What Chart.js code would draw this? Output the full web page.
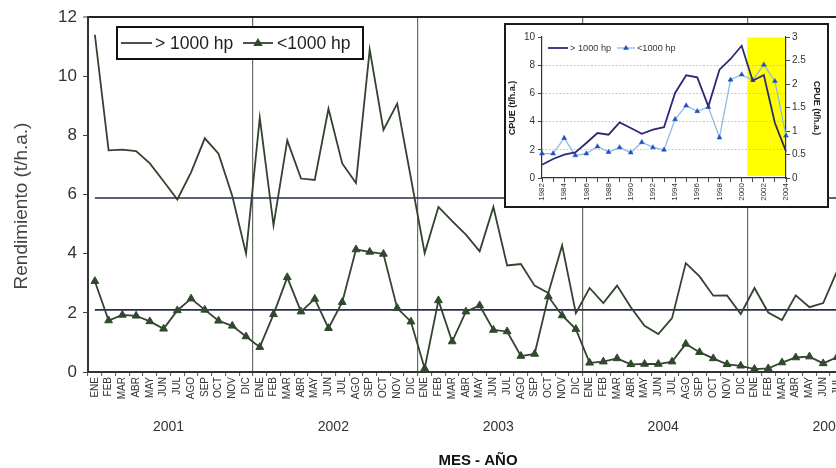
<!DOCTYPE html>
<html><head><meta charset="utf-8">
<script src="https://cdn.jsdelivr.net/npm/chart.js@4.4.1/dist/chart.umd.min.js"></script>
<style>
html,body{margin:0;padding:0;background:#fff;overflow:hidden;width:836px;height:468px;}
#wrap{position:relative;width:836px;height:468px;overflow:hidden;}
#main{position:absolute;left:0;top:0;}
#insetBox{position:absolute;left:504px;top:23px;width:325px;height:185px;box-sizing:border-box;border:2px solid #1a1a1a;background:#fff;}
#inset{position:absolute;left:0;top:0;}
</style></head><body>
<div id="wrap">
<canvas id="main" width="850" height="468" style="width:850px;height:468px"></canvas>
<div id="insetBox"><canvas id="inset" width="321" height="181" style="width:321px;height:181px"></canvas></div>
</div>
<script>
// ---------- main chart data ----------
const years = ['2001','2002','2003','2004','2005'];
const monthsPerYear = [12,12,12,12,7];
const months = ['ENE','FEB','MAR','ABR','MAY','JUN','JUL','AGO','SEP','OCT','NOV','DIC'];
const seriesNames = ['> 1000 hp','<1000 hp'];
const large = [11.4,7.49,7.52,7.47,7.05,6.45,5.83,6.75,7.9,7.38,5.95,4.0,
  8.6,4.96,7.83,6.54,6.49,8.9,7.05,6.39,10.9,8.18,9.07,6.55,
  4.02,5.58,5.1,4.64,4.08,5.58,3.6,3.65,2.92,2.67,4.28,1.99,
  2.84,2.33,2.92,2.19,1.56,1.28,1.82,3.68,3.23,2.58,2.59,1.96,
  2.84,2.01,1.76,2.59,2.19,2.33,3.4];
const small = [3.07,1.74,1.93,1.9,1.71,1.46,2.08,2.48,2.1,1.73,1.56,1.2,
  0.84,1.95,3.2,2.04,2.47,1.48,2.36,4.14,4.06,3.99,2.16,1.7,
  0.12,2.42,1.03,2.04,2.25,1.42,1.37,0.54,0.61,2.55,1.91,1.45,
  0.31,0.35,0.46,0.26,0.27,0.27,0.35,0.95,0.67,0.46,0.26,0.21,
  0.1,0.12,0.32,0.49,0.52,0.29,0.5];
const meanLarge = 5.88;
const meanSmall = 2.1;
const yTicksMain = [0,2,4,6,8,10,12];

// ---------- inset data ----------
const insetYears = ['1982','1983','1984','1985','1986','1987','1988','1989','1990','1991','1992','1993',
  '1994','1995','1996','1997','1998','1999','2000','2001','2002','2003','2004'];
const insetLarge = [0.94,1.35,1.65,1.82,2.48,3.19,3.07,3.94,3.55,3.14,3.43,3.6,6.03,7.28,7.14,5.08,7.68,8.44,9.38,6.9,7.3,3.9,1.89];
const insetSmall = [0.52,0.52,0.85,0.48,0.52,0.67,0.55,0.65,0.54,0.76,0.65,0.6,1.25,1.54,1.42,1.51,0.86,2.09,2.2,2.08,2.41,2.06,0.9];
const highlightFrom = '2001';
const insetTitle = 'CPUE (t/h.a.)';

const FONT = "'Liberation Sans', Arial, sans-serif";
const mainCats = [];
years.forEach((y,i)=>{ months.slice(0, monthsPerYear[i]).forEach(m=>mainCats.push(m)); });

const LINE_C = '#33432f';
const TRI_C = '#2e4a2b';

function drawLegendItem(ctx, x0, x1, y, color, lw, tri, triColor, triR){
  ctx.save();
  ctx.strokeStyle = color; ctx.lineWidth = lw;
  ctx.beginPath(); ctx.moveTo(x0,y); ctx.lineTo(x1,y); ctx.stroke();
  if (tri){
    const cx=(x0+x1)/2; const r=triR;
    ctx.fillStyle = triColor;
    ctx.beginPath();
    ctx.moveTo(cx, y - r);
    ctx.lineTo(cx + r*0.95, y + r*0.6);
    ctx.lineTo(cx - r*0.95, y + r*0.6);
    ctx.closePath(); ctx.fill();
  }
  ctx.restore();
}

const mainDecor = {
  id:'mainDecor',
  beforeDatasetsDraw(chart){
    const {ctx, scales:{x,y}, chartArea} = chart;
    ctx.save();
    ctx.strokeStyle = '#2a2e48'; ctx.lineWidth = 1.6;
    [meanLarge, meanSmall].forEach(v=>{
      const py = y.getPixelForValue(v);
      ctx.beginPath(); ctx.moveTo(x.getPixelForValue(0), py); ctx.lineTo(chartArea.right, py); ctx.stroke();
    });
    ctx.restore();
  },
  afterDraw(chart){
    const {ctx, scales:{x}} = chart;
    ctx.save();
    // year labels
    ctx.fillStyle = '#333'; ctx.font = '14px ' + FONT; ctx.textAlign='center'; ctx.textBaseline='middle';
    let s = 0;
    years.forEach((yr,i)=>{
      const px = (x.getPixelForValue(s+5) + x.getPixelForValue(s+6))/2 - 2;
      ctx.fillText(yr, px, 427);
      s += monthsPerYear[i];
    });
    // x title
    ctx.fillStyle = '#111'; ctx.font = 'bold 15px ' + FONT;
    ctx.fillText('MES - AÑO', 478, 461);
    // y title
    ctx.save();
    ctx.translate(22, 206); ctx.rotate(-Math.PI/2);
    ctx.fillStyle = '#444'; ctx.font = '19px ' + FONT;
    ctx.fillText('Rendimiento (t/h.a.)', 0, 0);
    ctx.restore();
    // legend
    ctx.fillStyle = '#fff'; ctx.fillRect(117,27,246,32);
    ctx.strokeStyle = '#111'; ctx.lineWidth = 2; ctx.strokeRect(117,27,246,32);
    drawLegendItem(ctx, 121, 152, 43, LINE_C, 1.8, false);
    drawLegendItem(ctx, 243, 273, 43, LINE_C, 1.8, true, TRI_C, 5);
    ctx.fillStyle = '#222'; ctx.font = '17.5px ' + FONT; ctx.textAlign='left'; ctx.textBaseline='middle';
    ctx.fillText(seriesNames[0], 155, 44);
    ctx.fillText(seriesNames[1], 277, 44);
    ctx.restore();
  }
};

new Chart(document.getElementById('main'), {
  type:'line',
  data:{ labels: mainCats, datasets:[
    { label: seriesNames[0], data: large, borderColor: LINE_C, borderWidth:1.8, pointRadius:0, tension:0 },
    { label: seriesNames[1], data: small, borderColor: LINE_C, borderWidth:1.8, pointStyle:'triangle', pointRadius:4.5,
      pointBackgroundColor: TRI_C, pointBorderColor: TRI_C, pointBorderWidth:1, tension:0 }
  ]},
  options:{
    responsive:false, animation:false,
    layout:{ padding:{ top:17, right:6, left:0, bottom:0 } },
    plugins:{ legend:{display:false}, tooltip:{enabled:false} },
    scales:{
      x:{
        offset:true,
        grid:{ offset:true, drawOnChartArea:true,
          color: c => (c.index>0 && c.index%12===0) ? '#6a6a6a' : 'rgba(0,0,0,0)',
          tickColor:'#555', tickLength:4, lineWidth:1.2, tickWidth:1 },
        border:{ color:'#333', width:2 },
        ticks:{ autoSkip:false, maxRotation:90, minRotation:90, font:{size:10, family:FONT}, color:'#333', padding:1 },
        afterFit: s => { s.height = 96; }
      },
      y:{
        min:0, max:12,
        afterBuildTicks: s => { s.ticks = yTicksMain.map(v=>({value:v})); },
        ticks:{ font:{size:17, family:FONT}, color:'#333', padding:6 },
        grid:{ color: c => (c.tick && c.tick.value===12) ? '#222' : 'rgba(0,0,0,0)',
          lineWidth: c => (c.tick && c.tick.value===12) ? 2 : 1,
          tickColor:'#444', tickLength:5, tickWidth:1 },
        border:{ color:'#333', width:2 },
        afterFit: s => { s.width = 88; }
      }
    }
  },
  plugins:[mainDecor]
});

// ---------- inset ----------
const BLUE_LINE = '#8cbbe9';
const BLUE_TRI = '#1f4fc0';
const NAVY = '#2c2a78';

const insetDecor = {
  id:'insetDecor',
  beforeDraw(chart){
    const {ctx, scales:{x}, chartArea} = chart;
    const i = insetYears.indexOf(highlightFrom);
    const x0 = (x.getPixelForValue(i-1) + x.getPixelForValue(i))/2;
    ctx.save();
    ctx.fillStyle = '#ffff00';
    ctx.fillRect(x0, chartArea.top + 0.5, chartArea.right - x0, chartArea.bottom - chartArea.top - 2.5);
    ctx.restore();
  },
  afterDraw(chart){
    const {ctx} = chart;
    ctx.save();
    ctx.fillStyle = '#222'; ctx.font = 'bold 9px ' + FONT; ctx.textAlign='center'; ctx.textBaseline='middle';
    ctx.save(); ctx.translate(6.5, 83); ctx.rotate(-Math.PI/2); ctx.fillText(insetTitle, 0, 0); ctx.restore();
    ctx.save(); ctx.translate(310.5, 83); ctx.rotate(Math.PI/2); ctx.fillText(insetTitle, 0, 0); ctx.restore();
    drawLegendItem(ctx, 42, 62, 23, NAVY, 1.8, false);
    drawLegendItem(ctx, 111, 129, 23, BLUE_LINE, 1.3, true, BLUE_TRI, 3);
    ctx.fillStyle = '#333'; ctx.font = '9.2px ' + FONT; ctx.textAlign='left';
    ctx.fillText(seriesNames[0], 64, 23.5);
    ctx.fillText(seriesNames[1], 131, 23.5);
    ctx.restore();
  }
};

new Chart(document.getElementById('inset'), {
  type:'line',
  data:{ labels: insetYears, datasets:[
    { label: seriesNames[0], data: insetLarge, yAxisID:'y', borderColor: NAVY, borderWidth:1.8, pointRadius:0, tension:0 },
    { label: seriesNames[1], data: insetSmall, yAxisID:'y1', borderColor: BLUE_LINE, borderWidth:1.3, pointStyle:'triangle',
      pointRadius:2.8, pointBackgroundColor: BLUE_TRI, pointBorderColor: BLUE_TRI, pointBorderWidth:0.5, tension:0 }
  ]},
  options:{
    responsive:false, animation:false,
    layout:{ padding:{ top:12, right:0, left:0, bottom:0 } },
    plugins:{ legend:{display:false}, tooltip:{enabled:false} },
    scales:{
      x:{
        offset:false,
        grid:{ display:true, drawOnChartArea:false, tickLength:4, tickColor:'#444', tickWidth:1 },
        border:{ color:'#333', width:1.2 },
        ticks:{ autoSkip:false, maxRotation:90, minRotation:90, font:{size:8, family:FONT}, color:'#333', padding:1,
          callback: (v,i) => i%2===0 ? insetYears[i] : '' },
        afterFit: s => { s.height = 28; }
      },
      y:{
        position:'left', min:0, max:10,
        ticks:{ stepSize:2, font:{size:10, family:FONT}, color:'#333', padding:3 },
        grid:{ color: c => (c.tick && c.tick.value>0 && c.tick.value<10) ? '#bdbdbd' : 'rgba(0,0,0,0)',
          tickColor:'#444', tickLength:4, tickWidth:1, lineWidth:1 },
        border:{ color:'#333', width:1.2, dash:[1.5,2] },
        afterFit: s => { s.width = 36; }
      },
      y1:{
        position:'right', min:0, max:3,
        ticks:{ stepSize:0.5, font:{size:10, family:FONT}, color:'#333', padding:2, callback: v => String(v) },
        grid:{ drawOnChartArea:false, tickColor:'#444', tickLength:4, tickWidth:1 },
        border:{ color:'#333', width:1.2 },
        afterFit: s => { s.width = 41; }
      }
    }
  },
  plugins:[insetDecor]
});
</script>
</body></html>
